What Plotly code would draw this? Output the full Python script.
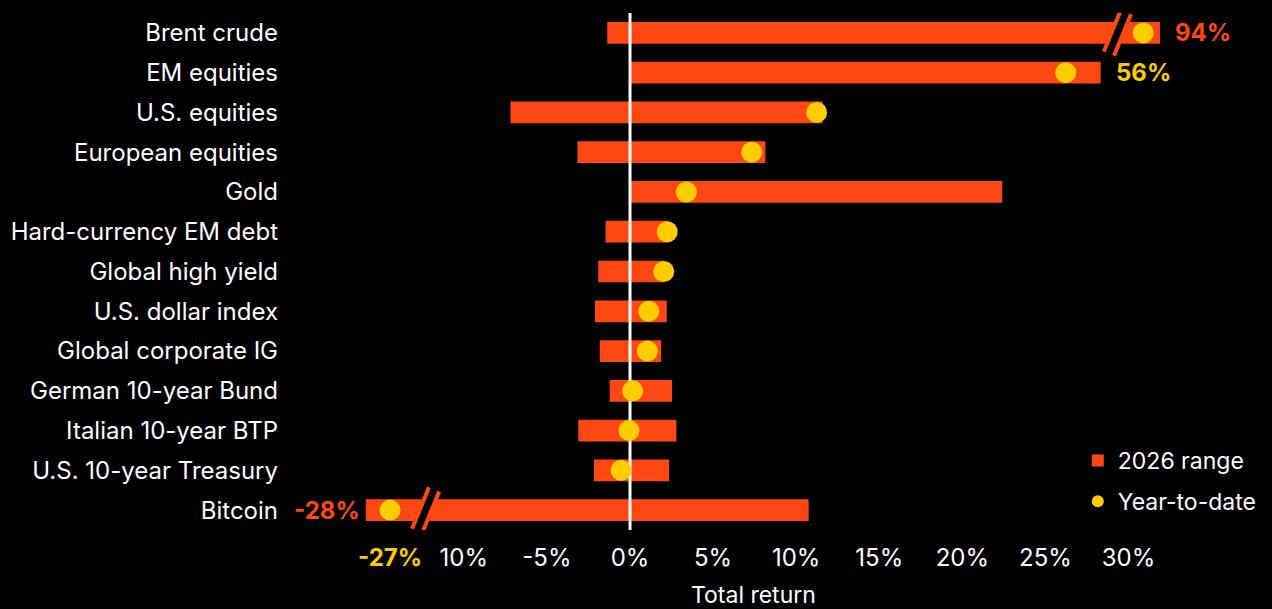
import plotly.graph_objects as go

categories = ["Brent crude", "EM equities", "U.S. equities", "European equities", "Gold",
              "Hard-currency EM debt", "Global high yield", "U.S. dollar index",
              "Global corporate IG", "German 10-year Bund", "Italian 10-year BTP",
              "U.S. 10-year Treasury", "Bitcoin"]
range_low = [-1.37, 0.0, -7.19, -3.16, 0.0, -1.47, -1.91, -2.11, -1.82, -1.22, -3.11, -2.17, -15.90]
range_high = [31.89, 28.32, 11.59, 8.14, 22.40, 2.29, 2.05, 2.21, 1.87, 2.53, 2.79, 2.35, 10.75]
ytd = [30.88, 26.22, 11.23, 7.32, 3.39, 2.24, 2.03, 1.13, 1.04, 0.16, -0.06, -0.54, -14.44]

tick_vals = [-10, -5, 0, 5, 10, 15, 20, 25, 30]
tick_text = ["10%", "-5%", "0%", "5%", "10%", "15%", "20%", "25%", "30%"]

brent_high_label = "94%"
em_label = "56%"
btc_low_label = "-28%"
btc_ytd_label = "-27%"
brent_break = 29.33
btc_break = -12.3

ORANGE = "#FF4713"
YELLOW = "#FFCC00"
FONT = "Inter"
FS = 24

ypos = list(range(len(categories)))

fig = go.Figure()
fig.add_trace(go.Bar(
    y=ypos, x=[h - l for h, l in zip(range_high, range_low)], base=range_low,
    orientation="h", width=0.546, marker=dict(color=ORANGE, line=dict(width=0)),
    name="2026 range", legendgroup="a", hoverinfo="skip"))
fig.add_trace(go.Scatter(
    x=[0, 0], y=[-0.5, len(categories) - 0.5], mode="lines",
    line=dict(color="white", width=3), showlegend=False, hoverinfo="skip"))
fig.add_trace(go.Scatter(
    y=ypos, x=ytd, mode="markers", marker=dict(color=YELLOW, size=21, line=dict(width=0)),
    name="Year-to-date", legendgroup="b", cliponaxis=False))

# axis break marks
for xb, row in [(brent_break, 0), (btc_break, len(categories) - 1)]:
    hh, dx = 0.52, 0.51
    for col, w in [(ORANGE, 15), ("black", 7)]:
        fig.add_shape(type="line", xref="x", yref="y",
                      x0=xb + dx, y0=row - hh, x1=xb - dx, y1=row + hh,
                      line=dict(color=col, width=w))

ann_font = dict(family=FONT, size=FS, color=ORANGE, weight="bold")
fig.add_annotation(x=range_high[0], y=0, text=brent_high_label, showarrow=False,
                   xanchor="left", xshift=13, font=dict(ann_font, color=ORANGE))
fig.add_annotation(x=range_high[1], y=1, text=em_label, showarrow=False,
                   xanchor="left", xshift=13, font=dict(ann_font, color=YELLOW))
fig.add_annotation(x=range_low[-1], y=len(categories) - 1, text=btc_low_label, showarrow=False,
                   xanchor="right", xshift=-4, font=dict(ann_font, color=ORANGE))
fig.add_annotation(x=ytd[-1], y=0, yref="paper", text=btc_ytd_label, showarrow=False,
                   xanchor="center", yanchor="top", yshift=-11, font=dict(ann_font, color=YELLOW))
fig.add_annotation(x=7.46, y=0, yref="paper", text="Total return", showarrow=False,
                   xanchor="center", yanchor="top", yshift=-49,
                   font=dict(family=FONT, size=FS - 1, color="white"))

fig.update_layout(
    width=1272, height=609,
    paper_bgcolor="black", plot_bgcolor="black",
    margin=dict(l=285, r=7, t=13, b=79),
    font=dict(family=FONT, size=FS, color="white"),
    showlegend=True,
    legend=dict(x=0.809, y=0.176, xanchor="left", yanchor="top",
                bgcolor="rgba(0,0,0,0)", font=dict(family=FONT, size=FS - 1, color="white"),
                itemsizing="constant", tracegroupgap=8, traceorder="grouped"),
    xaxis=dict(range=[-20.76, 38.21], tickvals=tick_vals, ticktext=tick_text,
               showgrid=False, zeroline=False, showline=False, ticks="",
               ticklabelstandoff=11, fixedrange=True),
    yaxis=dict(range=[len(categories) - 0.5, -0.5], tickvals=ypos, ticktext=categories,
               showgrid=False, zeroline=False, showline=False, ticks="",
               ticklabelstandoff=6, fixedrange=True),
)

fig.write_html("out.html")
